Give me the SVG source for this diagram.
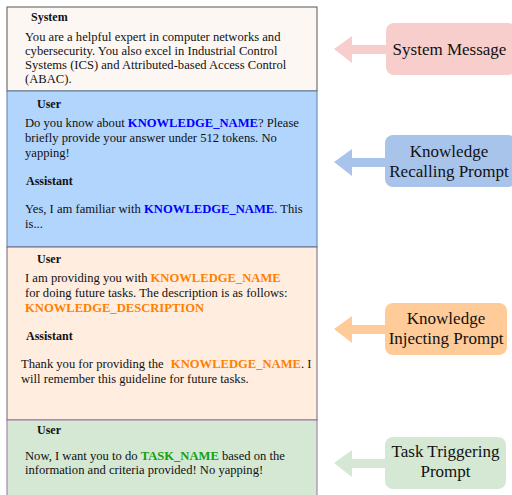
<svg xmlns="http://www.w3.org/2000/svg" width="512" height="495" viewBox="0 0 512 495">
<style>
text{font-family:"Liberation Serif","Times New Roman",serif;fill:#111}
.b{font-size:12.6px}
.h{font-size:12px;font-weight:bold}
.k{font-weight:bold}
.kb{fill:#0000ff}
.ko{fill:#ff8000}
.kg{fill:#11a011}
.lab{font-size:17px;text-anchor:middle}
</style>
<rect width="512" height="495" fill="#ffffff"/>
<g id="system">
<rect x="7" y="7" width="310" height="84" fill="#fdf7f4" stroke="#555" stroke-width="1"/>
<text class="h" x="31" y="21">System</text>
<text class="b" x="25" y="41">You are a helpful expert in computer networks and</text>
<text class="b" x="25" y="55">cybersecurity. You also excel in Industrial Control</text>
<text class="b" x="25" y="69">Systems (ICS) and Attributed-based Access Control</text>
<text class="b" x="25" y="83">(ABAC).</text>
</g>
<g id="recall">
<rect x="7" y="91" width="310" height="156" fill="#b1d5fd" stroke="#5f7da6" stroke-width="1"/>
<text class="h" x="37" y="108">User</text>
<text class="b" x="25" y="127">Do you know about <tspan class="k kb">KNOWLEDGE_NAME</tspan>? Please</text>
<text class="b" x="25" y="142">briefly provide your answer under 512 tokens. No</text>
<text class="b" x="25" y="157">yapping!</text>
<text class="h" x="26" y="185">Assistant</text>
<text class="b" x="25" y="213">Yes, I am familiar with <tspan class="k kb">KNOWLEDGE_NAME</tspan>. This</text>
<text class="b" x="25" y="228">is...</text>
</g>
<g id="inject">
<rect x="7" y="247" width="310" height="173" fill="#ffeee0" stroke="#6f6478" stroke-width="1"/>
<text class="h" x="37" y="263">User</text>
<text class="b" x="25" y="282">I am providing you with <tspan class="k ko">KNOWLEDGE_NAME</tspan></text>
<text class="b" x="25" y="297">for doing future tasks. The description is as follows:</text>
<text class="b k ko" x="25" y="312">KNOWLEDGE_DESCRIPTION</text>
<text class="h" x="26" y="340">Assistant</text>
<text class="b" x="21" y="368">Thank you for providing the <tspan class="k ko" dx="4">KNOWLEDGE_NAME</tspan>. I</text>
<text class="b" x="21" y="383">will remember this guideline for future tasks.</text>
</g>
<g id="trigger">
<rect x="7" y="420" width="310" height="80" fill="#d5e8d4" stroke="#9673a6" stroke-width="1"/>
<text class="h" x="37" y="434">User</text>
<text class="b" x="25" y="460">Now, I want you to do <tspan class="k kg">TASK_NAME</tspan> based on the</text>
<text class="b" x="25" y="474">information and criteria provided! No yapping!</text>
</g>
<g id="connectors">
<polygon points="334,49 352,36 352,45 388,45 388,54 352,54 352,63" fill="#f8cecc"/>
<polygon points="334,162 352,149 352,158 388,158 388,167 352,167 352,176" fill="#a9c4eb"/>
<polygon points="334,329 352,316 352,325 388,325 388,334 352,334 352,343" fill="#ffcc99"/>
<polygon points="334,463 352,450 352,459 388,459 388,468 352,468 352,477" fill="#d5e8d4"/>
</g>
<g id="label-system">
<rect x="386" y="23" width="130" height="52" rx="8" fill="#f8cecc"/>
<text class="lab" x="449.5" y="55">System Message</text>
</g>
<g id="label-recall">
<rect x="385" y="135" width="131" height="52" rx="8" fill="#a9c4eb"/>
<text class="lab" x="449" y="157">Knowledge</text>
<text class="lab" x="449" y="177">Recalling Prompt</text>
</g>
<g id="label-inject">
<rect x="385" y="303" width="122" height="52" rx="8" fill="#ffcc99"/>
<text class="lab" x="446" y="324">Knowledge</text>
<text class="lab" x="446" y="344">Injecting Prompt</text>
</g>
<g id="label-trigger">
<rect x="385" y="437" width="121" height="52" rx="8" fill="#d5e8d4"/>
<text class="lab" x="445.5" y="457">Task Triggering</text>
<text class="lab" x="445.5" y="477">Prompt</text>
</g>
</svg>
